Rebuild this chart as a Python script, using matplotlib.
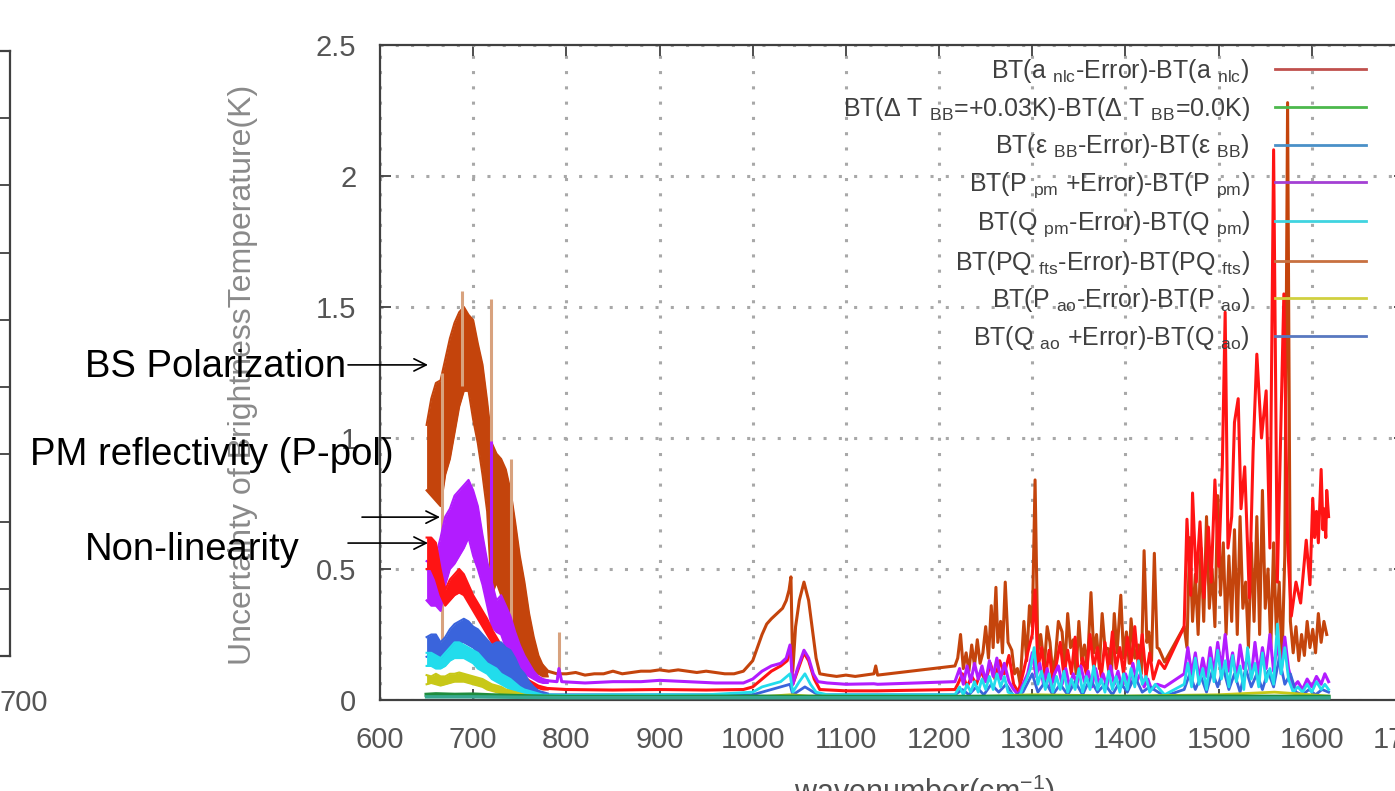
import matplotlib
matplotlib.use('Agg')
import matplotlib.pyplot as plt
import matplotlib.transforms as mtransforms

plt.rcParams['font.family'] = ['Liberation Sans', 'DejaVu Sans']
plt.rcParams['mathtext.fontset'] = 'custom'
plt.rcParams['mathtext.rm'] = 'Liberation Sans'
plt.rcParams['mathtext.it'] = 'Liberation Sans:italic'
plt.rcParams['mathtext.bf'] = 'Liberation Sans:bold'

# ---------------- data ----------------
X_TICKS = [600, 700, 800, 900, 1000, 1100, 1200, 1300, 1400, 1500, 1600, 1700]
Y_TICKS = [0, 0.5, 1, 1.5, 2, 2.5]
Y_TICK_LABELS = ["0", "0.5", "1", "1.5", "2", "2.5"]

LABELS = [
    r"BT(a $_{\rm nlc}$-Error)-BT(a $_{\rm nlc}$)",
    r"BT(Δ T $_{\rm BB}$=+0.03K)-BT(Δ T $_{\rm BB}$=0.0K)",
    r"BT(ε $_{\rm BB}$-Error)-BT(ε $_{\rm BB}$)",
    r"BT(P $_{\rm pm}$ +Error)-BT(P $_{\rm pm}$)",
    r"BT(Q $_{\rm pm}$-Error)-BT(Q $_{\rm pm}$)",
    r"BT(PQ $_{\rm fts}$-Error)-BT(PQ $_{\rm fts}$)",
    r"BT(P $_{\rm ao}$-Error)-BT(P $_{\rm ao}$)",
    r"BT(Q $_{\rm ao}$ +Error)-BT(Q $_{\rm ao}$)",
]

# dense (band-like) part of the spectrum, 650-780 cm-1
BAND_X = [650, 655, 660, 665, 670, 675, 680, 685, 690, 695, 700, 705, 710, 715,
          720, 725, 730, 735, 740, 745, 750, 755, 760, 765, 770, 775, 780]
PQ_FTS_HI = [1.05, 1.15, 1.21, 1.22, 1.30, 1.38, 1.44, 1.48, 1.50, 1.47, 1.45, 1.36, 1.28, 1.14,
             0.98, 0.94, 0.92, 0.88, 0.80, 0.68, 0.55, 0.45, 0.33, 0.24, 0.17, 0.13, 0.11]
PQ_FTS_LO = [0.80, 0.78, 0.76, 0.74, 0.86, 0.92, 1.02, 1.12, 1.18, 1.18, 1.07, 0.98, 0.86, 0.72,
             0.40, 0.45, 0.40, 0.33, 0.28, 0.22, 0.17, 0.14, 0.12, 0.11, 0.10, 0.09, 0.09]
P_PM_HI = [0.53, 0.52, 0.55, 0.62, 0.70, 0.73, 0.78, 0.80, 0.82, 0.84, 0.80, 0.74, 0.63, 0.53,
           0.45, 0.38, 0.40, 0.36, 0.32, 0.26, 0.21, 0.17, 0.14, 0.11, 0.09, 0.08, 0.075]
P_PM_LO = [0.38, 0.36, 0.36, 0.34, 0.44, 0.50, 0.52, 0.55, 0.58, 0.62, 0.55, 0.50, 0.44, 0.36,
           0.28, 0.26, 0.25, 0.20, 0.17, 0.14, 0.12, 0.10, 0.09, 0.08, 0.07, 0.065, 0.065]
A_NLC_HI = [0.62, 0.62, 0.60, 0.50, 0.42, 0.46, 0.48, 0.50, 0.48, 0.44, 0.40, 0.37, 0.34, 0.31,
            0.27, 0.24, 0.21, 0.18, 0.16, 0.13, 0.11, 0.09, 0.075, 0.065, 0.055, 0.05, 0.045]
A_NLC_LO = [0.50, 0.50, 0.46, 0.40, 0.36, 0.38, 0.40, 0.41, 0.40, 0.37, 0.34, 0.31, 0.28, 0.25,
            0.22, 0.19, 0.16, 0.14, 0.12, 0.10, 0.08, 0.065, 0.055, 0.05, 0.045, 0.04, 0.04]
Q_AO_HI = [0.24, 0.25, 0.25, 0.22, 0.24, 0.27, 0.29, 0.30, 0.31, 0.30, 0.28, 0.27, 0.25, 0.23,
           0.21, 0.22, 0.22, 0.20, 0.19, 0.16, 0.12, 0.10, 0.07, 0.05, 0.035, 0.03, 0.025]
Q_AO_LO = [0.165, 0.17, 0.17, 0.16, 0.17, 0.19, 0.21, 0.22, 0.22, 0.21, 0.20, 0.18, 0.16, 0.14,
           0.12, 0.10, 0.09, 0.07, 0.06, 0.05, 0.04, 0.03, 0.025, 0.02, 0.02, 0.02, 0.02]
Q_PM_HI = [0.18, 0.18, 0.17, 0.16, 0.18, 0.20, 0.22, 0.22, 0.21, 0.20, 0.19, 0.18, 0.16, 0.14,
           0.13, 0.12, 0.10, 0.09, 0.08, 0.065, 0.05, 0.04, 0.035, 0.03, 0.025, 0.02, 0.02]
Q_PM_LO = [0.13, 0.13, 0.12, 0.12, 0.13, 0.15, 0.16, 0.16, 0.16, 0.15, 0.14, 0.12, 0.11, 0.10,
           0.08, 0.07, 0.06, 0.05, 0.04, 0.035, 0.03, 0.025, 0.02, 0.02, 0.015, 0.015, 0.015]
P_AO_HI = [0.095, 0.09, 0.10, 0.09, 0.09, 0.10, 0.10, 0.105, 0.10, 0.095, 0.09, 0.085, 0.08, 0.07,
           0.06, 0.055, 0.05, 0.04, 0.035, 0.03, 0.025, 0.02, 0.018, 0.015, 0.013, 0.012, 0.012]
P_AO_LO = [0.06, 0.065, 0.06, 0.055, 0.06, 0.065, 0.07, 0.07, 0.07, 0.065, 0.06, 0.055, 0.05, 0.04,
           0.035, 0.03, 0.025, 0.02, 0.018, 0.015, 0.012, 0.01, 0.01, 0.009, 0.008, 0.008, 0.008]

# isolated single-channel spikes inside the dense part: (x, from, to)
PQ_FTS_SPIKES = [(667, 0.22, 1.25), (688, 1.20, 1.56), (719, 0.30, 1.53), (741, 0.30, 0.92), (792, 0.10, 0.26)]
P_PM_SPIKES = [(719, 0.30, 0.99)]

# sparse part of the spectrum, 775-1620 cm-1: (wavenumber, value)
PQ_FTS_TAIL = [
    (775, 0.13), (780, 0.11), (790, 0.10), (800, 0.10), (810, 0.105), (820, 0.095), (830, 0.10),
    (840, 0.10), (850, 0.11), (860, 0.10), (870, 0.105), (880, 0.11), (890, 0.11), (900, 0.115),
    (910, 0.11), (920, 0.115), (930, 0.11), (940, 0.105), (950, 0.11), (960, 0.105), (970, 0.10),
    (980, 0.10), (990, 0.11), (1000, 0.15), (1005, 0.20), (1010, 0.25), (1015, 0.29), (1020, 0.31),
    (1026, 0.33), (1032, 0.35), (1036, 0.38), (1039, 0.42), (1041, 0.47), (1043, 0.11), (1046, 0.28),
    (1050, 0.38), (1055, 0.45), (1060, 0.38), (1064, 0.27), (1068, 0.16), (1072, 0.10), (1080, 0.095),
    (1090, 0.09), (1100, 0.095), (1110, 0.09), (1120, 0.095), (1130, 0.10), (1132, 0.13), (1134, 0.095),
    (1217, 0.13), (1220, 0.16), (1223, 0.25), (1226, 0.12), (1229, 0.18), (1232, 0.11), (1235, 0.21),
    (1238, 0.13), (1241, 0.23), (1244, 0.14), (1247, 0.18), (1250, 0.28), (1253, 0.16), (1256, 0.36),
    (1258, 0.20), (1261, 0.43), (1263, 0.22), (1266, 0.30), (1268, 0.18), (1271, 0.45), (1274, 0.22),
    (1278, 0.19), (1281, 0.10), (1284, 0.12), (1287, 0.06), (1291, 0.30), (1294, 0.15), (1297, 0.36),
    (1300, 0.28), (1303, 0.84), (1306, 0.18), (1309, 0.25), (1313, 0.13), (1316, 0.28), (1319, 0.22),
    (1322, 0.10), (1325, 0.17), (1328, 0.30), (1332, 0.26), (1335, 0.12), (1338, 0.33), (1341, 0.20),
    (1344, 0.23), (1347, 0.10), (1350, 0.30), (1353, 0.15), (1356, 0.21), (1359, 0.12), (1363, 0.41),
    (1366, 0.18), (1369, 0.25), (1372, 0.12), (1375, 0.33), (1378, 0.20), (1382, 0.195), (1385, 0.10),
    (1388, 0.33), (1391, 0.18), (1395, 0.40), (1398, 0.16), (1401, 0.26), (1404, 0.14), (1406, 0.31),
    (1410, 0.16), (1414, 0.21), (1417, 0.10), (1420, 0.57), (1423, 0.22), (1425, 0.26), (1428, 0.15),
    (1431, 0.56), (1434, 0.20), (1436, 0.195), (1442, 0.145), (1463, 0.28), (1466, 0.20), (1469, 0.62),
    (1472, 0.30), (1475, 0.48), (1478, 0.25), (1481, 0.58), (1484, 0.30), (1487, 0.70), (1490, 0.35),
    (1493, 0.50), (1496, 0.28), (1499, 0.78), (1502, 0.40), (1505, 0.60), (1508, 0.25), (1511, 0.55),
    (1514, 0.30), (1517, 0.65), (1520, 0.25), (1523, 0.70), (1526, 0.35), (1529, 0.45), (1532, 0.20),
    (1535, 0.60), (1538, 0.30), (1541, 0.70), (1544, 0.25), (1547, 0.80), (1550, 0.35), (1553, 0.50),
    (1556, 0.20), (1559, 0.60), (1562, 0.25), (1565, 0.45), (1568, 0.15), (1571, 0.55), (1574, 2.28),
    (1577, 0.30), (1580, 0.18), (1583, 0.28), (1586, 0.15), (1589, 0.25), (1592, 0.17), (1595, 0.30),
    (1598, 0.20), (1601, 0.27), (1604, 0.18), (1607, 0.33), (1610, 0.22), (1613, 0.30), (1616, 0.25),
]
A_NLC_TAIL = [
    (775, 0.045), (800, 0.04), (850, 0.038), (900, 0.04), (950, 0.038), (990, 0.04), (1000, 0.05),
    (1010, 0.08), (1020, 0.11), (1030, 0.13), (1037, 0.15), (1041, 0.20), (1043, 0.06), (1050, 0.13),
    (1055, 0.18), (1060, 0.15), (1066, 0.08), (1072, 0.04), (1100, 0.035), (1134, 0.035), (1217, 0.04),
    (1220, 0.06), (1225, 0.10), (1230, 0.05), (1235, 0.09), (1240, 0.06), (1245, 0.11), (1250, 0.07),
    (1255, 0.14), (1260, 0.08), (1265, 0.15), (1270, 0.10), (1275, 0.17), (1280, 0.06), (1285, 0.03),
    (1290, 0.10), (1295, 0.18), (1300, 0.25), (1303, 0.42), (1306, 0.12), (1310, 0.20), (1314, 0.08),
    (1318, 0.19), (1322, 0.07), (1326, 0.14), (1330, 0.22), (1334, 0.09), (1338, 0.19), (1342, 0.10),
    (1346, 0.24), (1350, 0.08), (1354, 0.16), (1358, 0.10), (1362, 0.25), (1366, 0.12), (1370, 0.20),
    (1374, 0.09), (1378, 0.22), (1382, 0.11), (1386, 0.26), (1390, 0.12), (1394, 0.20), (1398, 0.10),
    (1402, 0.24), (1406, 0.14), (1410, 0.28), (1414, 0.12), (1418, 0.25), (1422, 0.09), (1426, 0.18),
    (1430, 0.08), (1436, 0.15), (1442, 0.12), (1463, 0.28), (1466, 0.69), (1470, 0.40), (1472, 0.79),
    (1476, 0.45), (1480, 0.68), (1484, 0.39), (1489, 0.66), (1492, 0.45), (1496, 0.84), (1500, 0.51),
    (1504, 0.90), (1507, 1.48), (1510, 0.58), (1514, 0.70), (1517, 1.06), (1521, 1.15), (1524, 0.73),
    (1528, 0.89), (1533, 0.39), (1537, 0.95), (1541, 1.32), (1546, 1.00), (1551, 1.18), (1555, 0.58),
    (1559, 2.10), (1563, 0.45), (1567, 1.08), (1570, 1.55), (1574, 0.60), (1578, 0.32), (1583, 0.45),
    (1588, 0.37), (1594, 0.61), (1598, 0.44), (1601, 0.77), (1603, 0.62), (1605, 0.72), (1607, 0.60),
    (1610, 0.88), (1612, 0.65), (1613, 0.73), (1615, 0.62), (1616, 0.80), (1618, 0.70),
]
P_PM_TAIL = [
    (775, 0.075), (790, 0.07), (792, 0.12), (795, 0.07), (820, 0.065), (850, 0.07), (880, 0.07),
    (900, 0.075), (930, 0.07), (960, 0.065), (990, 0.065), (1000, 0.08), (1010, 0.11), (1020, 0.13),
    (1030, 0.14), (1036, 0.16), (1040, 0.21), (1043, 0.06), (1048, 0.12), (1055, 0.19), (1060, 0.16),
    (1065, 0.10), (1070, 0.07), (1080, 0.065), (1100, 0.06), (1130, 0.062), (1134, 0.06), (1217, 0.07),
    (1222, 0.12), (1226, 0.06), (1230, 0.13), (1234, 0.07), (1238, 0.14), (1242, 0.08), (1246, 0.13),
    (1250, 0.07), (1254, 0.15), (1258, 0.09), (1262, 0.16), (1266, 0.08), (1270, 0.14), (1275, 0.07),
    (1280, 0.04), (1285, 0.02), (1290, 0.06), (1295, 0.10), (1300, 0.18), (1304, 0.09), (1308, 0.14),
    (1312, 0.06), (1316, 0.12), (1320, 0.05), (1324, 0.10), (1328, 0.13), (1332, 0.06), (1336, 0.12),
    (1340, 0.05), (1344, 0.10), (1348, 0.06), (1352, 0.13), (1356, 0.07), (1360, 0.11), (1364, 0.05),
    (1368, 0.12), (1372, 0.06), (1376, 0.10), (1380, 0.05), (1384, 0.13), (1388, 0.06), (1392, 0.11),
    (1396, 0.05), (1400, 0.10), (1404, 0.06), (1408, 0.14), (1412, 0.07), (1416, 0.10), (1420, 0.05),
    (1424, 0.08), (1428, 0.04), (1434, 0.06), (1442, 0.05), (1463, 0.10), (1467, 0.20), (1471, 0.10),
    (1475, 0.18), (1479, 0.08), (1483, 0.16), (1487, 0.09), (1491, 0.20), (1495, 0.10), (1499, 0.22),
    (1503, 0.12), (1507, 0.25), (1511, 0.11), (1515, 0.18), (1519, 0.08), (1523, 0.21), (1527, 0.12),
    (1531, 0.16), (1535, 0.09), (1539, 0.22), (1543, 0.10), (1547, 0.20), (1551, 0.12), (1555, 0.25),
    (1559, 0.11), (1563, 0.22), (1567, 0.10), (1571, 0.24), (1575, 0.12), (1580, 0.05), (1585, 0.07),
    (1590, 0.04), (1595, 0.08), (1600, 0.05), (1605, 0.09), (1610, 0.06), (1614, 0.10), (1618, 0.07),
]
Q_PM_TAIL = [
    (775, 0.02), (800, 0.018), (850, 0.02), (900, 0.02), (950, 0.02), (1000, 0.03), (1010, 0.05),
    (1020, 0.06), (1030, 0.07), (1040, 0.10), (1043, 0.03), (1050, 0.07), (1056, 0.10), (1062, 0.06),
    (1068, 0.03), (1080, 0.02), (1134, 0.02), (1217, 0.02), (1222, 0.05), (1226, 0.02), (1230, 0.06),
    (1234, 0.03), (1238, 0.07), (1242, 0.03), (1246, 0.08), (1250, 0.04), (1254, 0.09), (1258, 0.04),
    (1262, 0.10), (1266, 0.05), (1270, 0.09), (1274, 0.03), (1280, 0.02), (1286, 0.01), (1290, 0.05),
    (1294, 0.08), (1298, 0.12), (1302, 0.20), (1306, 0.06), (1310, 0.11), (1314, 0.04), (1318, 0.10),
    (1322, 0.03), (1326, 0.09), (1330, 0.04), (1334, 0.11), (1338, 0.03), (1342, 0.08), (1346, 0.04),
    (1350, 0.12), (1354, 0.03), (1358, 0.09), (1362, 0.04), (1366, 0.13), (1370, 0.04), (1374, 0.08),
    (1378, 0.03), (1382, 0.11), (1386, 0.04), (1390, 0.09), (1394, 0.03), (1398, 0.10), (1402, 0.04),
    (1406, 0.12), (1410, 0.05), (1414, 0.15), (1418, 0.06), (1422, 0.09), (1426, 0.03), (1432, 0.06),
    (1442, 0.02), (1463, 0.06), (1467, 0.14), (1471, 0.05), (1475, 0.16), (1479, 0.06), (1483, 0.12),
    (1487, 0.04), (1491, 0.16), (1495, 0.07), (1499, 0.19), (1503, 0.08), (1507, 0.15), (1511, 0.05),
    (1515, 0.17), (1519, 0.07), (1523, 0.13), (1527, 0.04), (1531, 0.20), (1535, 0.08), (1539, 0.14),
    (1543, 0.05), (1547, 0.18), (1551, 0.07), (1555, 0.12), (1559, 0.06), (1563, 0.29), (1567, 0.10),
    (1571, 0.20), (1575, 0.08), (1580, 0.03), (1585, 0.05), (1590, 0.03), (1595, 0.06), (1600, 0.03),
    (1605, 0.07), (1610, 0.04), (1614, 0.06), (1618, 0.04),
]
Q_AO_TAIL = [
    (775, 0.02), (1000, 0.02), (1020, 0.04), (1040, 0.06), (1043, 0.02), (1056, 0.05), (1070, 0.02),
    (1217, 0.02), (1225, 0.04), (1232, 0.02), (1240, 0.05), (1248, 0.02), (1256, 0.06), (1264, 0.03),
    (1272, 0.06), (1280, 0.015), (1290, 0.03), (1300, 0.10), (1306, 0.03), (1314, 0.07), (1322, 0.02),
    (1330, 0.06), (1338, 0.02), (1346, 0.07), (1354, 0.02), (1362, 0.08), (1370, 0.03), (1378, 0.06),
    (1386, 0.02), (1394, 0.07), (1402, 0.03), (1410, 0.09), (1418, 0.03), (1426, 0.05), (1442, 0.015),
    (1463, 0.04), (1469, 0.10), (1475, 0.04), (1481, 0.09), (1487, 0.03), (1493, 0.11), (1499, 0.05),
    (1505, 0.12), (1511, 0.04), (1517, 0.10), (1523, 0.03), (1529, 0.12), (1535, 0.05), (1541, 0.10),
    (1547, 0.04), (1553, 0.11), (1559, 0.05), (1565, 0.16), (1571, 0.06), (1577, 0.10), (1583, 0.03),
    (1590, 0.02), (1597, 0.04), (1604, 0.02), (1611, 0.04), (1618, 0.03),
]
P_AO_TAIL = [(775, 0.01), (1000, 0.01), (1040, 0.02), (1060, 0.015), (1217, 0.01), (1300, 0.02),
             (1400, 0.015), (1500, 0.02), (1560, 0.03), (1618, 0.015)]
DT_BB_LINE = [(650, 0.020), (660, 0.022), (680, 0.020), (700, 0.021), (720, 0.018), (760, 0.014),
              (800, 0.012), (900, 0.012), (1000, 0.013), (1100, 0.012), (1200, 0.012), (1300, 0.013),
              (1400, 0.012), (1500, 0.013), (1618, 0.012)]
E_BB_LINE = [(650, 0.012), (700, 0.012), (760, 0.010), (800, 0.009), (1000, 0.009), (1200, 0.008),
             (1400, 0.008), (1618, 0.008)]

# plot colours and legend-sample colours, in legend order
PLOT_COLORS = ['#ff1414', '#1e8c3c', '#38a890', '#b21cff', '#22dcec', '#c4440c', '#c8c818', '#3a64dc']
LEGEND_COLORS = ['#c0504d', '#4cb84c', '#4a90c8', '#a440d4', '#40d4e0', '#c87040', '#d0d040', '#5878c0']

ANNOTATIONS = [  # text, text left px, text centre y px, arrow start x, arrow tip x (data), arrow y (data)
    ("BS Polarization", 85, 367, 565.7, 651.5, 1.279),
    ("PM reflectivity (P-pol)", 30, 455, None, None, None),
    ("", None, None, 580.7, 664.4, 0.698),
    ("Non-linearity", 85, 550, 565.7, 651.5, 0.599),
]

# ---------------- figure ----------------
W, H = 1395, 791
fig = plt.figure(figsize=(W / 100, H / 100), dpi=100)


def px_box(l, t, r, b):
    return [l / W, 1 - b / H, (r - l) / W, (b - t) / H]


ax = fig.add_axes(px_box(380, 45, 1405, 700))
ax.set_xlim(600, 1700)
ax.set_ylim(0, 2.5)
ax.set_xticks(X_TICKS)
ax.set_yticks(Y_TICKS)
ax.set_yticklabels(Y_TICK_LABELS)
ax.tick_params(direction='in', length=8, width=1.3, color='#404040', top=True, right=True,
               labelsize=21, labelcolor='#555555')
ax.tick_params(axis='x', pad=19)
ax.tick_params(axis='y', pad=17)
for s in ax.spines.values():
    s.set_color('#404040')
    s.set_linewidth(1.6)
ax.set_axisbelow(True)
ax.grid(True, color='#a8a8a8', linestyle=(0, (1, 4)), linewidth=2.2)


def xs(pts):
    return [p[0] for p in pts]


def ys(pts):
    return [p[1] for p in pts]


def band(lo, hi, c, z):
    ax.fill_between(BAND_X, lo, hi, color=c, lw=0, zorder=z)
    ax.plot(BAND_X, lo, color=c, lw=1.5, zorder=z)
    ax.plot(BAND_X, hi, color=c, lw=1.5, zorder=z)


C = PLOT_COLORS
# brown PQ_fts
band(PQ_FTS_LO, PQ_FTS_HI, C[5], 2)
l_pq, = ax.plot(xs(PQ_FTS_TAIL), ys(PQ_FTS_TAIL), color=C[5], lw=2.2, zorder=2)
for x, a, b in PQ_FTS_SPIKES:
    ax.vlines(x, a, b, color='#d8a27e', lw=2.2, zorder=2.5)
# purple P_pm
band(P_PM_LO, P_PM_HI, C[3], 3)
l_ppm, = ax.plot(xs(P_PM_TAIL), ys(P_PM_TAIL), color=C[3], lw=2.2, zorder=3)
for x, a, b in P_PM_SPIKES:
    ax.vlines(x, a, b, color=C[3], lw=2.2, zorder=3)
# red a_nlc
band(A_NLC_LO, A_NLC_HI, C[0], 4)
l_nlc, = ax.plot(xs(A_NLC_TAIL), ys(A_NLC_TAIL), color=C[0], lw=2.2, zorder=2.2)
# blue Q_ao
band(Q_AO_LO, Q_AO_HI, C[7], 5)
l_qao, = ax.plot(xs(Q_AO_TAIL), ys(Q_AO_TAIL), color=C[7], lw=2.0, zorder=4)
# cyan Q_pm
band(Q_PM_LO, Q_PM_HI, C[4], 6)
l_qpm, = ax.plot(xs(Q_PM_TAIL), ys(Q_PM_TAIL), color=C[4], lw=2.0, zorder=4.5)
# yellow P_ao
band(P_AO_LO, P_AO_HI, C[6], 7)
l_pao, = ax.plot(xs(P_AO_TAIL), ys(P_AO_TAIL), color=C[6], lw=2.0, zorder=7)
# green / teal
l_dt, = ax.plot(xs(DT_BB_LINE), ys(DT_BB_LINE), color=C[1], lw=3.0, zorder=8)
l_ebb, = ax.plot(xs(E_BB_LINE), ys(E_BB_LINE), color=C[2], lw=2.5, zorder=8)

handles = [l_nlc, l_dt, l_ebb, l_ppm, l_qpm, l_pq, l_pao, l_qao]
leg = ax.legend(handles, LABELS, loc='upper right', bbox_to_anchor=(1366 / W, 1 - 57 / H),
                bbox_transform=fig.transFigure, frameon=False, markerfirst=False,
                fontsize=18, handlelength=3.65, handletextpad=1.0, labelspacing=0.385,
                borderpad=0, borderaxespad=0)
for ln, c in zip(leg.get_lines(), LEGEND_COLORS):
    ln.set_color(c)
    ln.set_linewidth(2.0)
for t in leg.get_texts():
    t.set_color('#404040')

# y label
fig.text(243 / W, 1 - 375 / H, "Uncertainty of BrightnessTemperature(K)", rotation=90,
         ha='center', va='center', fontsize=23, color='#8a8a8a')
# x label (mostly below the visible area)
fig.text(925 / W, 1 - 802 / H, "wavenumber(cm$^{-1}$)", ha='center', va='baseline',
         fontsize=22, color='#505050')

# annotations
for txt, tl, ty, sx, tx, ay in ANNOTATIONS:
    if txt:
        fig.text(tl / W, 1 - ty / H, txt, ha='left', va='center', fontsize=27.5, color='black',
                 zorder=20)
    if sx is not None:
        ax.annotate('', xy=(tx, ay), xytext=(sx, ay), annotation_clip=False,
                    arrowprops=dict(arrowstyle='->', color='black', lw=1.2,
                                    mutation_scale=22, shrinkA=0, shrinkB=0), zorder=20)

# neighbouring panel, only its right edge is visible
ax2 = fig.add_axes(px_box(-300, 51, 10, 656))
ax2.set_xlim(600, 700)
ax2.set_ylim(0, 9)
ax2.set_xticks([700])
ax2.set_yticks([1, 2, 3, 4, 5, 6, 7, 8])
ax2.yaxis.tick_right()
ax2.tick_params(axis='y', direction='in', length=10, width=1.3, color='#404040', labelright=False)
ax2.tick_params(axis='x', direction='in', length=0, labelsize=21, labelcolor='#555555', pad=24)
for s in ax2.spines.values():
    s.set_color('#404040')
    s.set_linewidth(1.6)
off = mtransforms.ScaledTranslation(14 / 100, 0, fig.dpi_scale_trans)
for lab in ax2.get_xticklabels():
    lab.set_transform(lab.get_transform() + off)

fig.savefig('out.png', dpi=100)
